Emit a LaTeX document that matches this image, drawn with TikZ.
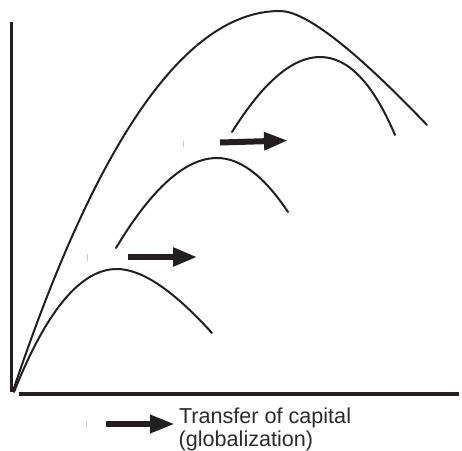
\documentclass[tikz,border=0pt]{standalone}
\usepackage{fontspec}
\setmainfont{Liberation Sans}
\usetikzlibrary{arrows.meta}
\definecolor{ink}{RGB}{35,31,32}
\definecolor{txt}{RGB}{45,42,43}
\definecolor{faint}{RGB}{200,200,200}
\tikzset{
  axis/.style={ink, line width=3.2pt},
  curve/.style={ink, line width=2pt, line cap=round},
  bigarrow/.style={ink, line width=6pt, -{Triangle[length=24pt,width=17pt]}},
  tick/.style={faint, line width=0.9pt},
  lbl/.style={txt, inner sep=0pt, anchor=base west, font=\fontsize{21.6}{25}\selectfont}
}
\begin{document}
\begin{tikzpicture}[x=1pt,y=-1pt]
\useasboundingbox (0,0) rectangle (462,450);
% axes
\coordinate (vtop) at (11.5,22);
\coordinate (vbot) at (11.5,392);
\coordinate (hleft) at (19,394);
\coordinate (hright) at (459,394);
\draw[axis] (vtop) -- (vbot);
\draw[axis] (hleft) -- (hright);
% big curve
\coordinate (b0) at (13,391);
\coordinate (bp) at (280,11);
\coordinate (b1) at (427,125);
\draw[curve] (b0) .. controls (97.67,137.67) and (186.67,11) .. (bp)
                  .. controls (305.33,11) and (354.33,49) .. (b1);
% bottom curve
\coordinate (s0) at (14,392);
\coordinate (sp) at (117,269);
\coordinate (s1) at (212,333);
\draw[curve] (s0) .. controls (46.67,310) and (81,269) .. (sp)
                  .. controls (141.67,269) and (173.33,290.33) .. (s1);
% middle curve
\coordinate (m0) at (116,248);
\coordinate (mp) at (217,158);
\coordinate (m1) at (288,212);
\draw[curve] (m0) .. controls (152,188) and (185.67,158) .. (mp)
                  .. controls (240.33,158) and (264,176) .. (m1);
% upper curve
\coordinate (u0) at (232,132);
\coordinate (up) at (320,57);
\coordinate (u1) at (395,135);
\draw[curve] (u0) .. controls (263.33,82) and (292.67,57) .. (up)
                  .. controls (348,57) and (373,83) .. (u1);
% arrows
\coordinate (ua1) at (220,142.5);
\coordinate (ua2) at (288,140.5);
\draw[bigarrow] (ua1) -- (ua2);
\coordinate (la1) at (128,257);
\coordinate (la2) at (197,257);
\draw[bigarrow, line width=5.5pt, -{Triangle[length=24pt,width=18pt]}] (la1) -- (la2);
\coordinate (ka1) at (106,424);
\coordinate (ka2) at (175,424);
\draw[bigarrow, line width=6.5pt, -{Triangle[length=25pt,width=17pt]}] (ka1) -- (ka2);
% faint ticks
\coordinate (t1a) at (183,140.5); \coordinate (t1b) at (183,147);
\draw[tick] (t1a) -- (t1b);
\coordinate (t2a) at (87,254); \coordinate (t2b) at (87,261);
\draw[tick] (t2a) -- (t2b);
\coordinate (t3a) at (86,421); \coordinate (t3b) at (86,428);
\draw[tick] (t3a) -- (t3b);
% legend text
\node[lbl] (l1) at (178.8,423.3) {Transfer of capital};
\node[lbl] (l2) at (178.5,446.5) {(globalization)};
\end{tikzpicture}
\end{document}
